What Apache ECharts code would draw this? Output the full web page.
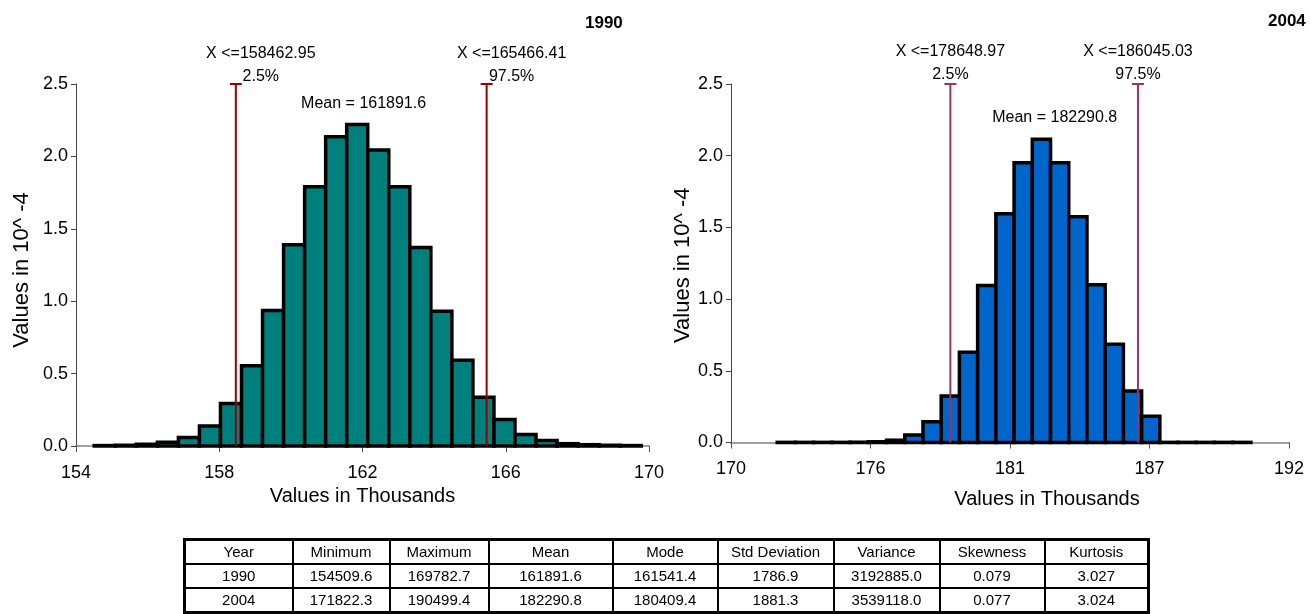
<!DOCTYPE html>
<html>
<head>
<meta charset="utf-8">
<title>Simulated distribution 1990 / 2004</title>
<script src="https://cdn.jsdelivr.net/npm/echarts@6/dist/echarts.min.js"></script>
<style>
  html, body { margin: 0; padding: 0; background: #fff; }
  #chart { position: absolute; left: 0; top: 0; width: 1311px; height: 614px; }
  #stats {
    position: absolute; left: 183px; top: 538px; width: 964px;
    table-layout: fixed; border-collapse: collapse;
    font: 15px Arial, "Liberation Sans", sans-serif; color: #000;
    border: 3px solid #000;
  }
  #stats td { border: 2px solid #000; text-align: center; vertical-align: middle; padding: 0; height: 22px; line-height: 20px; }
</style>
</head>
<body>
<div id="chart"></div>
<table id="stats"><colgroup id="statsCols"></colgroup><tbody id="statsBody"></tbody></table>
<script>
// ---- data -------------------------------------------------------------
// Frequency density (in 10^-4) of 26 equal-width bins spanning [min, max]
const range1990 = [154509.6, 169782.7];
const density1990 = [0.003, 0.005, 0.012, 0.026, 0.058, 0.138, 0.293, 0.555, 0.935, 1.39,
                     1.79, 2.135, 2.22, 2.045, 1.79, 1.37, 0.93, 0.592, 0.337, 0.183,
                     0.08, 0.038, 0.016, 0.009, 0.005, 0.003];
const range2004 = [171822.3, 190499.4];
const density2004 = [0.001, 0.001, 0.001, 0.001, 0.002, 0.005, 0.016, 0.052, 0.145, 0.325,
                     0.63, 1.095, 1.595, 1.95, 2.115, 1.95, 1.575, 1.1, 0.685, 0.36,
                     0.183, 0.001, 0.001, 0.001, 0.001, 0.001];

const percentileLevels = ['2.5%', '97.5%'];
const percentiles1990 = [158462.95, 165466.41];
const percentiles2004 = [178648.97, 186045.03];
const mean1990 = 161891.6;
const mean2004 = 182290.8;

const xTickLabels1990 = ['154', '158', '162', '166', '170'];
const xTickLabels2004 = ['170', '176', '181', '187', '192'];
const yTickLabels = ['0.0', '0.5', '1.0', '1.5', '2.0', '2.5'];

const statsHeader = ['Year', 'Minimum', 'Maximum', 'Mean', 'Mode', 'Std Deviation', 'Variance', 'Skewness', 'Kurtosis'];
const stats1990 = ['1990', '154509.6', '169782.7', '161891.6', '161541.4', '1786.9', '3192885.0', '0.079', '3.027'];
const stats2004 = ['2004', '171822.3', '190499.4', '182290.8', '180409.4', '1881.3', '3539118.0', '0.077', '3.024'];

// ---- helpers ----------------------------------------------------------
const FONT = 'Arial, "Liberation Sans", sans-serif';

// bins as [start, end, density] in thousands
function toBins(range, density) {
  const n = density.length;
  const w = (range[1] - range[0]) / n;
  return density.map((d, i) => [(range[0] + i * w) / 1000, (range[0] + (i + 1) * w) / 1000, d]);
}

function binRenderer(fill) {
  return function (params, api) {
    const topLeft = api.coord([api.value(0), api.value(2)]);
    const botRight = api.coord([api.value(1), 0]);
    return {
      type: 'rect',
      shape: { x: topLeft[0], y: topLeft[1], width: botRight[0] - topLeft[0], height: botRight[1] - topLeft[1] },
      style: { fill: fill, stroke: '#000', lineWidth: 3.5, lineJoin: 'miter' }
    };
  };
}

function percentileRenderer(values, color, dx, dy1, dy2) {
  return function (params, api) {
    const i = params.dataIndex;
    const top = api.coord([api.value(0), 2.5]);
    const bot = api.coord([api.value(0), 0]);
    const txt = { font: '16px ' + FONT, fill: '#000', align: 'center', verticalAlign: 'middle' };
    return {
      type: 'group',
      children: [
        { type: 'line', shape: { x1: top[0], y1: top[1], x2: bot[0], y2: bot[1] }, style: { stroke: color, lineWidth: 2 } },
        { type: 'line', shape: { x1: top[0] - 6, y1: top[1], x2: top[0] + 6, y2: top[1] }, style: { stroke: color, lineWidth: 2 } },
        { type: 'text', x: top[0] + dx, y: top[1] + dy1, style: Object.assign({ text: 'X <=' + values[i].toFixed(2) }, txt) },
        { type: 'text', x: top[0] + dx, y: top[1] + dy2, style: Object.assign({ text: percentileLevels[i] }, txt) }
      ]
    };
  };
}

function meanRenderer(mean, dx, dy) {
  return function (params, api) {
    const top = api.coord([api.value(0), 2.5]);
    return {
      type: 'text', x: top[0] + dx, y: top[1] + dy,
      style: { text: 'Mean = ' + mean.toFixed(1), font: '16px ' + FONT, fill: '#000', align: 'center', verticalAlign: 'middle' }
    };
  };
}

function xAxis(gridIndex, min, max, interval, labels, nameGap, namePad) {
  return {
    type: 'value', gridIndex, min, max, interval,
    name: 'Values in Thousands', nameLocation: 'middle', nameGap: nameGap,
    nameTextStyle: { fontFamily: FONT, fontSize: 20, color: '#000', padding: namePad },
    axisLine: { show: true, onZero: false, lineStyle: { color: '#808080', width: 1.5 } },
    axisTick: { show: true, length: 6, lineStyle: { color: '#555', width: 1 } },
    axisLabel: { fontFamily: FONT, fontSize: 18, color: '#000', margin: 18,
                 formatter: (v, idx) => labels[idx] },
    splitLine: { show: false }
  };
}

function yAxis(gridIndex, nameGap, namePad) {
  return {
    type: 'value', gridIndex, min: 0, max: 2.5, interval: 0.5,
    name: 'Values in 10^ -4', nameLocation: 'middle', nameGap: nameGap, nameRotate: 90,
    nameTextStyle: { fontFamily: FONT, fontSize: 22, color: '#000', padding: namePad },
    axisLine: { show: true, lineStyle: { color: '#444', width: 1 } },
    axisTick: { show: true, length: 5, lineStyle: { color: '#444', width: 1 } },
    axisLabel: { fontFamily: FONT, fontSize: 18, color: '#000', margin: 8,
                 formatter: (v, idx) => yTickLabels[idx] },
    splitLine: { show: false }
  };
}

// ---- chart ------------------------------------------------------------
const chart = echarts.init(document.getElementById('chart'));

chart.setOption({
  animation: false,
  backgroundColor: '#fff',
  title: [
    { text: '1990', left: 585, top: 15, padding: 0, textStyle: { fontFamily: FONT, fontSize: 17, fontWeight: 'bold', color: '#000' } },
    { text: '2004', left: 1268, top: 13, padding: 0, textStyle: { fontFamily: FONT, fontSize: 17, fontWeight: 'bold', color: '#000' } }
  ],
  grid: [
    { left: 76, top: 84, width: 573, height: 362 },
    { left: 731, top: 84, width: 558, height: 358.5 }
  ],
  xAxis: [
    xAxis(0, 154, 170, 4, xTickLabels1990, 38, 0),
    xAxis(1, 170, 192, 5.5, xTickLabels2004, 47, [0, 0, 0, 74])
  ],
  yAxis: [yAxis(0, 43, [0, 10, 0, 0]), yAxis(1, 33, [0, 4, 0, 0])],
  series: [
    {
      type: 'custom', name: 'Distribution 1990', xAxisIndex: 0, yAxisIndex: 0,
      renderItem: binRenderer('#00807C'), encode: { x: [0, 1], y: 2 },
      data: toBins(range1990, density1990), clip: false, z: 2
    },
    {
      type: 'custom', name: 'Distribution 2004', xAxisIndex: 1, yAxisIndex: 1,
      renderItem: binRenderer('#0066CC'), encode: { x: [0, 1], y: 2 },
      data: toBins(range2004, density2004), clip: false, z: 2
    },
    {
      type: 'custom', name: 'Percentiles 1990', xAxisIndex: 0, yAxisIndex: 0,
      renderItem: percentileRenderer(percentiles1990, '#990000', 25, -30, -7),
      encode: { x: 0 }, data: percentiles1990.map(v => [v / 1000]), clip: false, z: 5
    },
    {
      type: 'custom', name: 'Percentiles 2004', xAxisIndex: 1, yAxisIndex: 1,
      renderItem: percentileRenderer(percentiles2004, '#993366', 0, -32, -9),
      encode: { x: 0 }, data: percentiles2004.map(v => [v / 1000]), clip: false, z: 5
    },
    {
      type: 'custom', name: 'Mean 1990', xAxisIndex: 0, yAxisIndex: 0,
      renderItem: meanRenderer(mean1990, 5, 20), encode: { x: 0 },
      data: [[mean1990 / 1000]], clip: false, z: 5
    },
    {
      type: 'custom', name: 'Mean 2004', xAxisIndex: 1, yAxisIndex: 1,
      renderItem: meanRenderer(mean2004, 12, 34), encode: { x: 0 },
      data: [[mean2004 / 1000]], clip: false, z: 5
    }
  ]
});

// ---- summary statistics table -----------------------------------------
const colWidths = [108, 97, 99, 124, 105, 116, 106, 105, 104];
const cols = document.getElementById('statsCols');
colWidths.forEach(w => {
  const c = document.createElement('col');
  c.style.width = w + 'px';
  cols.appendChild(c);
});
const body = document.getElementById('statsBody');
[statsHeader, stats1990, stats2004].forEach(row => {
  const tr = document.createElement('tr');
  row.forEach(cell => {
    const td = document.createElement('td');
    td.textContent = cell;
    tr.appendChild(td);
  });
  body.appendChild(tr);
});
</script>
</body>
</html>
